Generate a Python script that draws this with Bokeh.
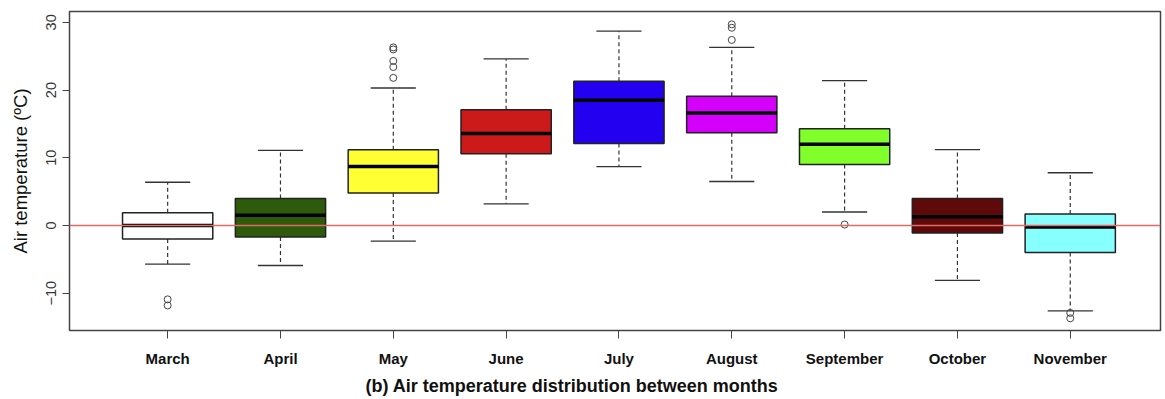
from bokeh.plotting import figure
from bokeh.models import Range1d, FixedTicker, Span, Title, ColumnDataSource
from bokeh.embed import file_html
from bokeh.resources import INLINE

months = ["March", "April", "May", "June", "July", "August", "September", "October", "November"]
lower_whisker = [-5.7, -5.9, -2.3, 3.2, 8.7, 6.5, 2.0, -8.1, -12.6]
q1 = [-2.0, -1.7, 4.8, 10.6, 12.1, 13.7, 9.0, -1.1, -4.0]
median = [0.0, 1.5, 8.7, 13.6, 18.5, 16.6, 12.0, 1.3, -0.2]
q3 = [1.9, 4.0, 11.2, 17.1, 21.3, 19.1, 14.3, 4.0, 1.7]
upper_whisker = [6.4, 11.1, 20.3, 24.6, 28.7, 26.3, 21.4, 11.2, 7.8]
colors = ["#ffffff", "#2e5a0c", "#ffff33", "#cc1a1a", "#2400f0", "#d400fc", "#80ff2a", "#5e0a0a", "#88ffff"]

outlier_month = ["March", "March", "May", "May", "May", "May", "May",
                 "August", "August", "August", "September", "November", "November"]
outlier_value = [-10.9, -11.8, 26.3, 26.0, 24.3, 23.4, 21.8,
                 29.7, 29.2, 27.4, 0.15, -12.9, -13.7]

y_ticks = [-10, 0, 10, 20, 30]

FONT = "Liberation Sans"
BOX_W = 0.8
CAP_W = 0.4

xs = [i + 1 for i in range(len(months))]
src = ColumnDataSource(dict(
    x=xs,
    left=[x - BOX_W / 2 for x in xs],
    right=[x + BOX_W / 2 for x in xs],
    cap_l=[x - CAP_W / 2 for x in xs],
    cap_r=[x + CAP_W / 2 for x in xs],
    lw=lower_whisker, q1=q1, med=median, q3=q3, uw=upper_whisker, color=colors,
))
ox = [months.index(m) + 1 for m in outlier_month]

p = figure(width=1165, height=399, output_backend="svg", toolbar_location=None,
           x_range=Range1d(0.13, 9.8), y_range=Range1d(-15.5, 31.6),
           min_border_left=69, min_border_right=5, min_border_top=11, min_border_bottom=69)
p.grid.visible = False
p.outline_line_color = "#444444"
p.outline_line_width = 1.5
p.background_fill_color = "white"
p.border_fill_color = "white"

# whiskers
p.segment(x0="x", y0="q3", x1="x", y1="uw", source=src, line_color="#333333", line_width=1.2, line_dash="4 3")
p.segment(x0="x", y0="q1", x1="x", y1="lw", source=src, line_color="#333333", line_width=1.2, line_dash="4 3")
p.segment(x0="cap_l", y0="uw", x1="cap_r", y1="uw", source=src, line_color="#333333", line_width=1.4)
p.segment(x0="cap_l", y0="lw", x1="cap_r", y1="lw", source=src, line_color="#333333", line_width=1.4)
# boxes
p.quad(left="left", right="right", bottom="q1", top="q3", source=src, fill_color="color",
       line_color="#222222", line_width=1.5)
p.segment(x0="left", y0="med", x1="right", y1="med", source=src, line_color="black", line_width=3.5)
# outliers
p.scatter(ox, outlier_value, marker="circle", size=7, fill_color=None, line_color="#444444", line_width=1)

p.add_layout(Span(location=0, dimension="width", line_color="#e46a6a", line_width=1.5))

# axes
p.yaxis.ticker = FixedTicker(ticks=y_ticks)
p.yaxis.major_label_orientation = "vertical"
p.yaxis.major_label_text_font = FONT
p.yaxis.major_label_text_font_size = "14.5px"
p.yaxis.major_label_text_color = "#333333"
p.yaxis.major_label_standoff = 6
p.yaxis.axis_line_color = None
p.yaxis.major_tick_out = 7
p.yaxis.major_tick_in = 0
p.yaxis.major_tick_line_color = "#444444"
p.yaxis.minor_tick_line_color = None
p.yaxis.axis_label = "Air temperature (ºC)"
p.yaxis.axis_label_text_font = FONT
p.yaxis.axis_label_text_font_size = "18.5px"
p.yaxis.axis_label_text_font_style = "normal"
p.yaxis.axis_label_text_color = "#111111"
p.yaxis.axis_label_standoff = 13

p.xaxis.ticker = FixedTicker(ticks=xs)
p.xaxis.major_label_overrides = {x: m for x, m in zip(xs, months)}
p.xaxis.major_label_text_font = FONT
p.xaxis.major_label_text_font_size = "15px"
p.xaxis.major_label_text_font_style = "bold"
p.xaxis.major_label_text_color = "#111111"
p.xaxis.major_label_standoff = 11
p.xaxis.axis_line_color = None
p.xaxis.major_tick_out = 8
p.xaxis.major_tick_in = 0
p.xaxis.major_tick_line_color = "#444444"
p.xaxis.minor_tick_line_color = None

p.add_layout(Title(text="(b) Air temperature distribution between months", align="left", offset=296,
                   text_font=FONT, text_font_size="18px", text_font_style="bold", text_color="#111111",
                   standoff=8), "below")

open("out.html", "w").write(file_html(p, INLINE))
